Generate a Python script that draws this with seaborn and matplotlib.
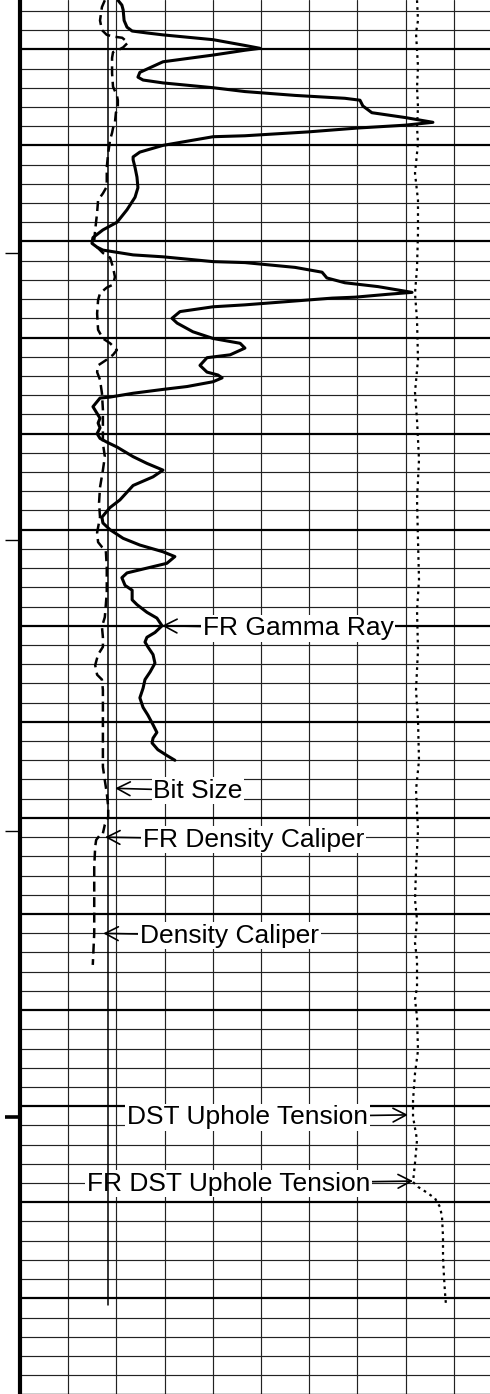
import numpy as np
import matplotlib
matplotlib.use("Agg")
import matplotlib.pyplot as plt
from matplotlib.ticker import MultipleLocator
import seaborn as sns

# ----------------------------------------------------------
# log data (depth in ft)
# ----------------------------------------------------------

gr_depth = [4994.9, 4995.4, 4995.9, 4997.0, 4997.7, 4998.1, 4998.3, 4998.5, 4999.0, 4999.6,
            4999.9, 5000.1, 5000.6, 5001.3, 5002.4, 5002.9, 5003.2, 5003.5, 5004.0, 5004.4,
            5004.8, 5005.1, 5005.3, 5005.9, 5006.6, 5007.1, 5007.6, 5007.9, 5008.2, 5008.6,
            5008.9, 5009.0, 5009.1, 5010.0, 5010.7, 5011.2, 5011.5, 5012.3, 5013.3, 5014.4,
            5015.4, 5016.7, 5018.0, 5018.8, 5019.6, 5020.2, 5020.6, 5020.9, 5021.4, 5021.6,
            5022.1, 5022.2, 5022.7, 5023.2, 5023.8, 5024.3, 5024.7, 5025.3, 5025.5, 5025.8,
            5025.9, 5026.6, 5026.8, 5027.3, 5028.0, 5028.5, 5029.4, 5030.1, 5030.6, 5031.1,
            5031.8, 5032.1, 5032.9, 5033.6, 5033.9, 5034.2, 5034.6, 5035.1, 5035.4, 5035.8,
            5036.2, 5036.3, 5037.2, 5037.9, 5038.4, 5038.9, 5039.4, 5040.0, 5040.5, 5040.9,
            5041.4, 5042.4, 5043.1, 5043.8, 5044.5, 5045.4, 5046.1, 5046.9, 5047.7, 5048.7,
            5049.3, 5050.0, 5050.9, 5051.6, 5052.3, 5052.8, 5053.5, 5054.0, 5054.5, 5055.0,
            5055.8, 5056.3, 5057.3, 5057.8, 5058.6, 5059.2, 5060.0, 5060.7, 5061.2, 5061.7,
            5062.2, 5063.0, 5063.9, 5064.8, 5065.6, 5066.5, 5067.5, 5068.5, 5069.3, 5070.3,
            5071.1, 5071.7, 5072.2, 5072.9, 5073.5, 5074.0]
gr_api = [30.5, 31.7, 32.1, 32.4, 33.3, 34.9, 39.5, 44.5, 60.1, 70.0,
          74.7, 70.0, 60.1, 44.5, 37.3, 36.7, 38.3, 44.5, 60.1, 70.0,
          85.6, 101.1, 105.8, 106.7, 109.5, 119.8, 128.5, 119.8, 104.9, 89.6,
          75.3, 70.0, 60.1, 44.5, 37.3, 35.2, 35.2, 35.8, 36.4, 36.7,
          35.8, 33.3, 30.2, 25.8, 22.7, 22.4, 24.0, 25.8, 35.2, 44.5,
          60.1, 70.0, 85.6, 94.0, 95.5, 101.1, 111.4, 122.0, 114.5, 104.3,
          97.1, 70.0, 60.1, 49.8, 47.3, 48.9, 53.8, 60.1, 68.5, 70.0,
          65.4, 58.2, 56.0, 58.2, 61.6, 62.9, 60.1, 52.0, 44.5, 35.2,
          28.0, 24.9, 22.7, 24.0, 24.9, 24.3, 24.9, 24.0, 24.9, 27.1,
          30.2, 35.2, 39.5, 44.5, 41.4, 35.2, 33.3, 31.1, 28.0, 25.5,
          25.8, 28.0, 32.1, 37.3, 44.5, 48.2, 45.7, 39.5, 33.3, 31.7,
          32.7, 34.9, 34.9, 36.4, 39.5, 42.6, 44.2, 42.0, 39.5, 38.9,
          39.8, 41.4, 42.0, 40.5, 38.9, 38.3, 37.3, 38.3, 39.8, 41.4,
          42.6, 41.4, 41.1, 42.9, 45.7, 48.2]

fr_cal_depth = [4994.9, 4995.6, 4997.0, 4998.0, 4998.5, 4998.7, 4998.8, 4999.3, 4999.8, 5000.1,
                5000.3, 5000.9, 5002.5, 5003.9, 5004.8, 5005.3, 5006.0, 5006.6, 5007.6, 5008.2,
                5008.7, 5009.4, 5010.8, 5012.3, 5014.3, 5015.0, 5015.7, 5017.0, 5018.8, 5019.9,
                5020.6, 5021.2, 5021.7, 5022.7, 5023.7, 5024.5, 5024.8, 5025.4, 5026.1, 5027.5,
                5029.2, 5030.1, 5030.6, 5031.3, 5031.8, 5032.3, 5032.9, 5033.6, 5034.4, 5035.8,
                5037.5, 5039.3, 5041.0, 5042.4, 5043.8, 5045.6, 5047.2, 5048.7, 5050.3, 5051.3,
                5051.8, 5052.1, 5053.9, 5056.6, 5059.1, 5060.1, 5061.2, 5062.2, 5063.0, 5064.1,
                5065.1, 5065.6, 5066.7, 5069.5, 5072.2, 5074.7, 5076.1, 5077.4, 5078.9, 5079.9,
                5080.7, 5081.6]
fr_cal_in = [7.76, 7.70, 7.66, 7.70, 7.80, 7.97, 8.12, 8.24, 8.14, 8.03,
             7.93, 7.91, 7.91, 7.93, 8.01, 8.03, 8.03, 7.99, 7.97, 7.93,
             7.91, 7.87, 7.83, 7.80, 7.80, 7.72, 7.62, 7.60, 7.56, 7.54,
             7.60, 7.72, 7.87, 7.93, 7.97, 7.93, 7.80, 7.66, 7.62, 7.60,
             7.62, 7.72, 7.87, 8.01, 7.93, 7.80, 7.62, 7.60, 7.66, 7.70,
             7.72, 7.72, 7.72, 7.76, 7.72, 7.66, 7.64, 7.66, 7.60, 7.62,
             7.70, 7.78, 7.80, 7.80, 7.76, 7.70, 7.72, 7.72, 7.62, 7.56,
             7.60, 7.70, 7.72, 7.72, 7.72, 7.72, 7.76, 7.80, 7.83, 7.83,
             7.76, 7.72]

cal_depth = [5081.9, 5082.3, 5083.0, 5085.1, 5088.5, 5092.0, 5095.3]
cal_in = [7.64, 7.58, 7.56, 7.54, 7.54, 7.54, 7.51]

bit_depth = [4994.9, 5130.7]
bit_in = [7.83, 7.83]

ten_depth = [4994.9, 4997.0, 4998.3, 5000.1, 5001.8, 5004.0, 5006.0, 5008.1, 5009.8, 5012.9,
             5015.7, 5019.1, 5022.7, 5025.4, 5028.2, 5032.3, 5035.7, 5038.6, 5042.7, 5046.9,
             5051.1, 5055.2, 5058.4, 5062.5, 5066.7, 5069.8, 5074.0, 5077.1, 5081.3, 5085.4,
             5088.5, 5090.6, 5093.0, 5094.8, 5097.6, 5098.9, 5100.7, 5104.2, 5106.6, 5109.4,
             5111.1, 5113.5, 5115.9, 5117.9]
ten_lbf = [8237, 8257, 8216, 8237, 8257, 8237, 8257, 8237, 8257, 8195,
           8257, 8257, 8237, 8195, 8237, 8257, 8195, 8237, 8278, 8237,
           8257, 8278, 8237, 8257, 8216, 8257, 8278, 8216, 8257, 8216,
           8195, 8237, 8195, 8237, 8237, 8195, 8237, 8257, 8195, 8154,
           8154, 8237, 8195, 8154]

fr_ten_depth = [5117.9, 5118.4, 5119.0, 5119.6, 5120.5, 5121.5, 5123.6, 5125.7, 5127.8, 5129.4, 5130.7]
fr_ten_lbf = [8154, 8257, 8444, 8610, 8714, 8755, 8776, 8776, 8797, 8817, 8838]

depth_top = 4994.87
depth_bottom = 5139.96
depth_ticks_minor = [5021.2, 5051.1, 5081.4]
depth_ticks_major = [5111.1]

# track scales (left, right)
gr_scale = (0, 150)
cal_scale = (6, 16)
ten_scale = (0, 10000)

# ----------------------------------------------------------
# figure / track grid
# ----------------------------------------------------------

sns.set_style("white")
plt.rcParams['font.family'] = ['Liberation Sans', 'DejaVu Sans']

fig = plt.figure(figsize=(4.9, 13.94), dpi=100)
ax = fig.add_axes([20 / 490, 0, 482 / 490, 1])

ax.set_xlim(0, 10)
ax.set_ylim(depth_bottom, depth_top)
ax.xaxis.set_major_locator(MultipleLocator(1))
ax.yaxis.set_major_locator(MultipleLocator(10))
ax.yaxis.set_minor_locator(MultipleLocator(2))
ax.grid(which='major', axis='x', color='#222222', lw=0.85)
ax.grid(which='major', axis='y', color='black', lw=1.6)
ax.grid(which='minor', axis='y', color='#222222', lw=0.85)
ax.tick_params(which='both', length=0, labelbottom=False, labelleft=False)
ax.spines['top'].set_visible(False)
ax.spines['right'].set_visible(False)
ax.spines['left'].set_linewidth(3)
ax.spines['left'].set_color('black')
ax.spines['bottom'].set_linewidth(1)
ax.spines['bottom'].set_color('black')

# depth ticks on the left
sec = ax.secondary_yaxis('left')
sec.set_ticks(depth_ticks_major)
sec.set_ticks(depth_ticks_minor, minor=True)
sec.tick_params(which='major', length=10.8, width=2.6, color='black', labelleft=False)
sec.tick_params(which='minor', length=10.8, width=1.0, color='black')
sec.spines['left'].set_visible(False)

# ----------------------------------------------------------
# curves, each on its own scale
# ----------------------------------------------------------

ax_gr = ax.twiny()
ax_cal = ax.twiny()
ax_ten = ax.twiny()

sns.lineplot(x=gr_api, y=gr_depth, orient='y', sort=False, estimator=None,
             color='black', lw=2.2, ax=ax_gr)

sns.lineplot(x=bit_in, y=bit_depth, orient='y', sort=False, estimator=None,
             color='black', lw=1.1, ax=ax_cal)
sns.lineplot(x=fr_cal_in, y=fr_cal_depth, orient='y', sort=False, estimator=None,
             color='black', lw=1.8, linestyle=(0, (4, 2.2)), ax=ax_cal)
sns.lineplot(x=cal_in, y=cal_depth, orient='y', sort=False, estimator=None,
             color='black', lw=1.8, linestyle=(0, (4, 2.2)), ax=ax_cal)

sns.lineplot(x=ten_lbf, y=ten_depth, orient='y', sort=False, estimator=None,
             color='black', lw=1.6, linestyle=(0, (1.2, 1.9)), ax=ax_ten)
sns.lineplot(x=fr_ten_lbf, y=fr_ten_depth, orient='y', sort=False, estimator=None,
             color='black', lw=1.6, linestyle=(0, (1.2, 1.9)), ax=ax_ten)

ax_gr.set_xlim(*gr_scale)
ax_cal.set_xlim(*cal_scale)
ax_ten.set_xlim(*ten_scale)
for a in (ax_gr, ax_cal, ax_ten):
    a.axis('off')
ax.set_ylim(depth_bottom, depth_top)

# ----------------------------------------------------------
# curve labels
# ----------------------------------------------------------

box = dict(boxstyle='square,pad=0.06', fc='white', ec='none')


def label(text, curve_ax, depth, values, d, dx, shrink=0.0, side='left'):
    x = np.interp(d, depth, values)
    arrow = dict(arrowstyle='->,head_length=0.5,head_width=0.26',
                 color='black', lw=1.2, shrinkA=0, shrinkB=shrink)
    ax.annotate(text, xy=(x, d), xycoords=curve_ax.transData,
                xytext=(dx, 0), textcoords='offset points',
                ha=side, va='center_baseline', fontsize=19, color='black',
                bbox=box, arrowprops=arrow, zorder=3)


label('FR Gamma Ray', ax_gr, gr_depth, gr_api, 5060.0, 29.5)
label('Bit Size', ax_cal, bit_depth, bit_in, 5076.9, 32.4, shrink=5)
label('FR Density Caliper', ax_cal, fr_cal_depth, fr_cal_in, 5082.0, 28.8, shrink=1.5)
label('Density Caliper', ax_cal, cal_depth, cal_in, 5092.0, 33.0, shrink=6.5)
label('DST Uphole Tension', ax_ten, ten_depth, ten_lbf, 5110.9, -32.4, shrink=3.6, side='right')
label('FR DST Uphole Tension', ax_ten, fr_ten_depth, fr_ten_lbf, 5117.8, -31.0, side='right')

plt.savefig("out.png", dpi=100)
